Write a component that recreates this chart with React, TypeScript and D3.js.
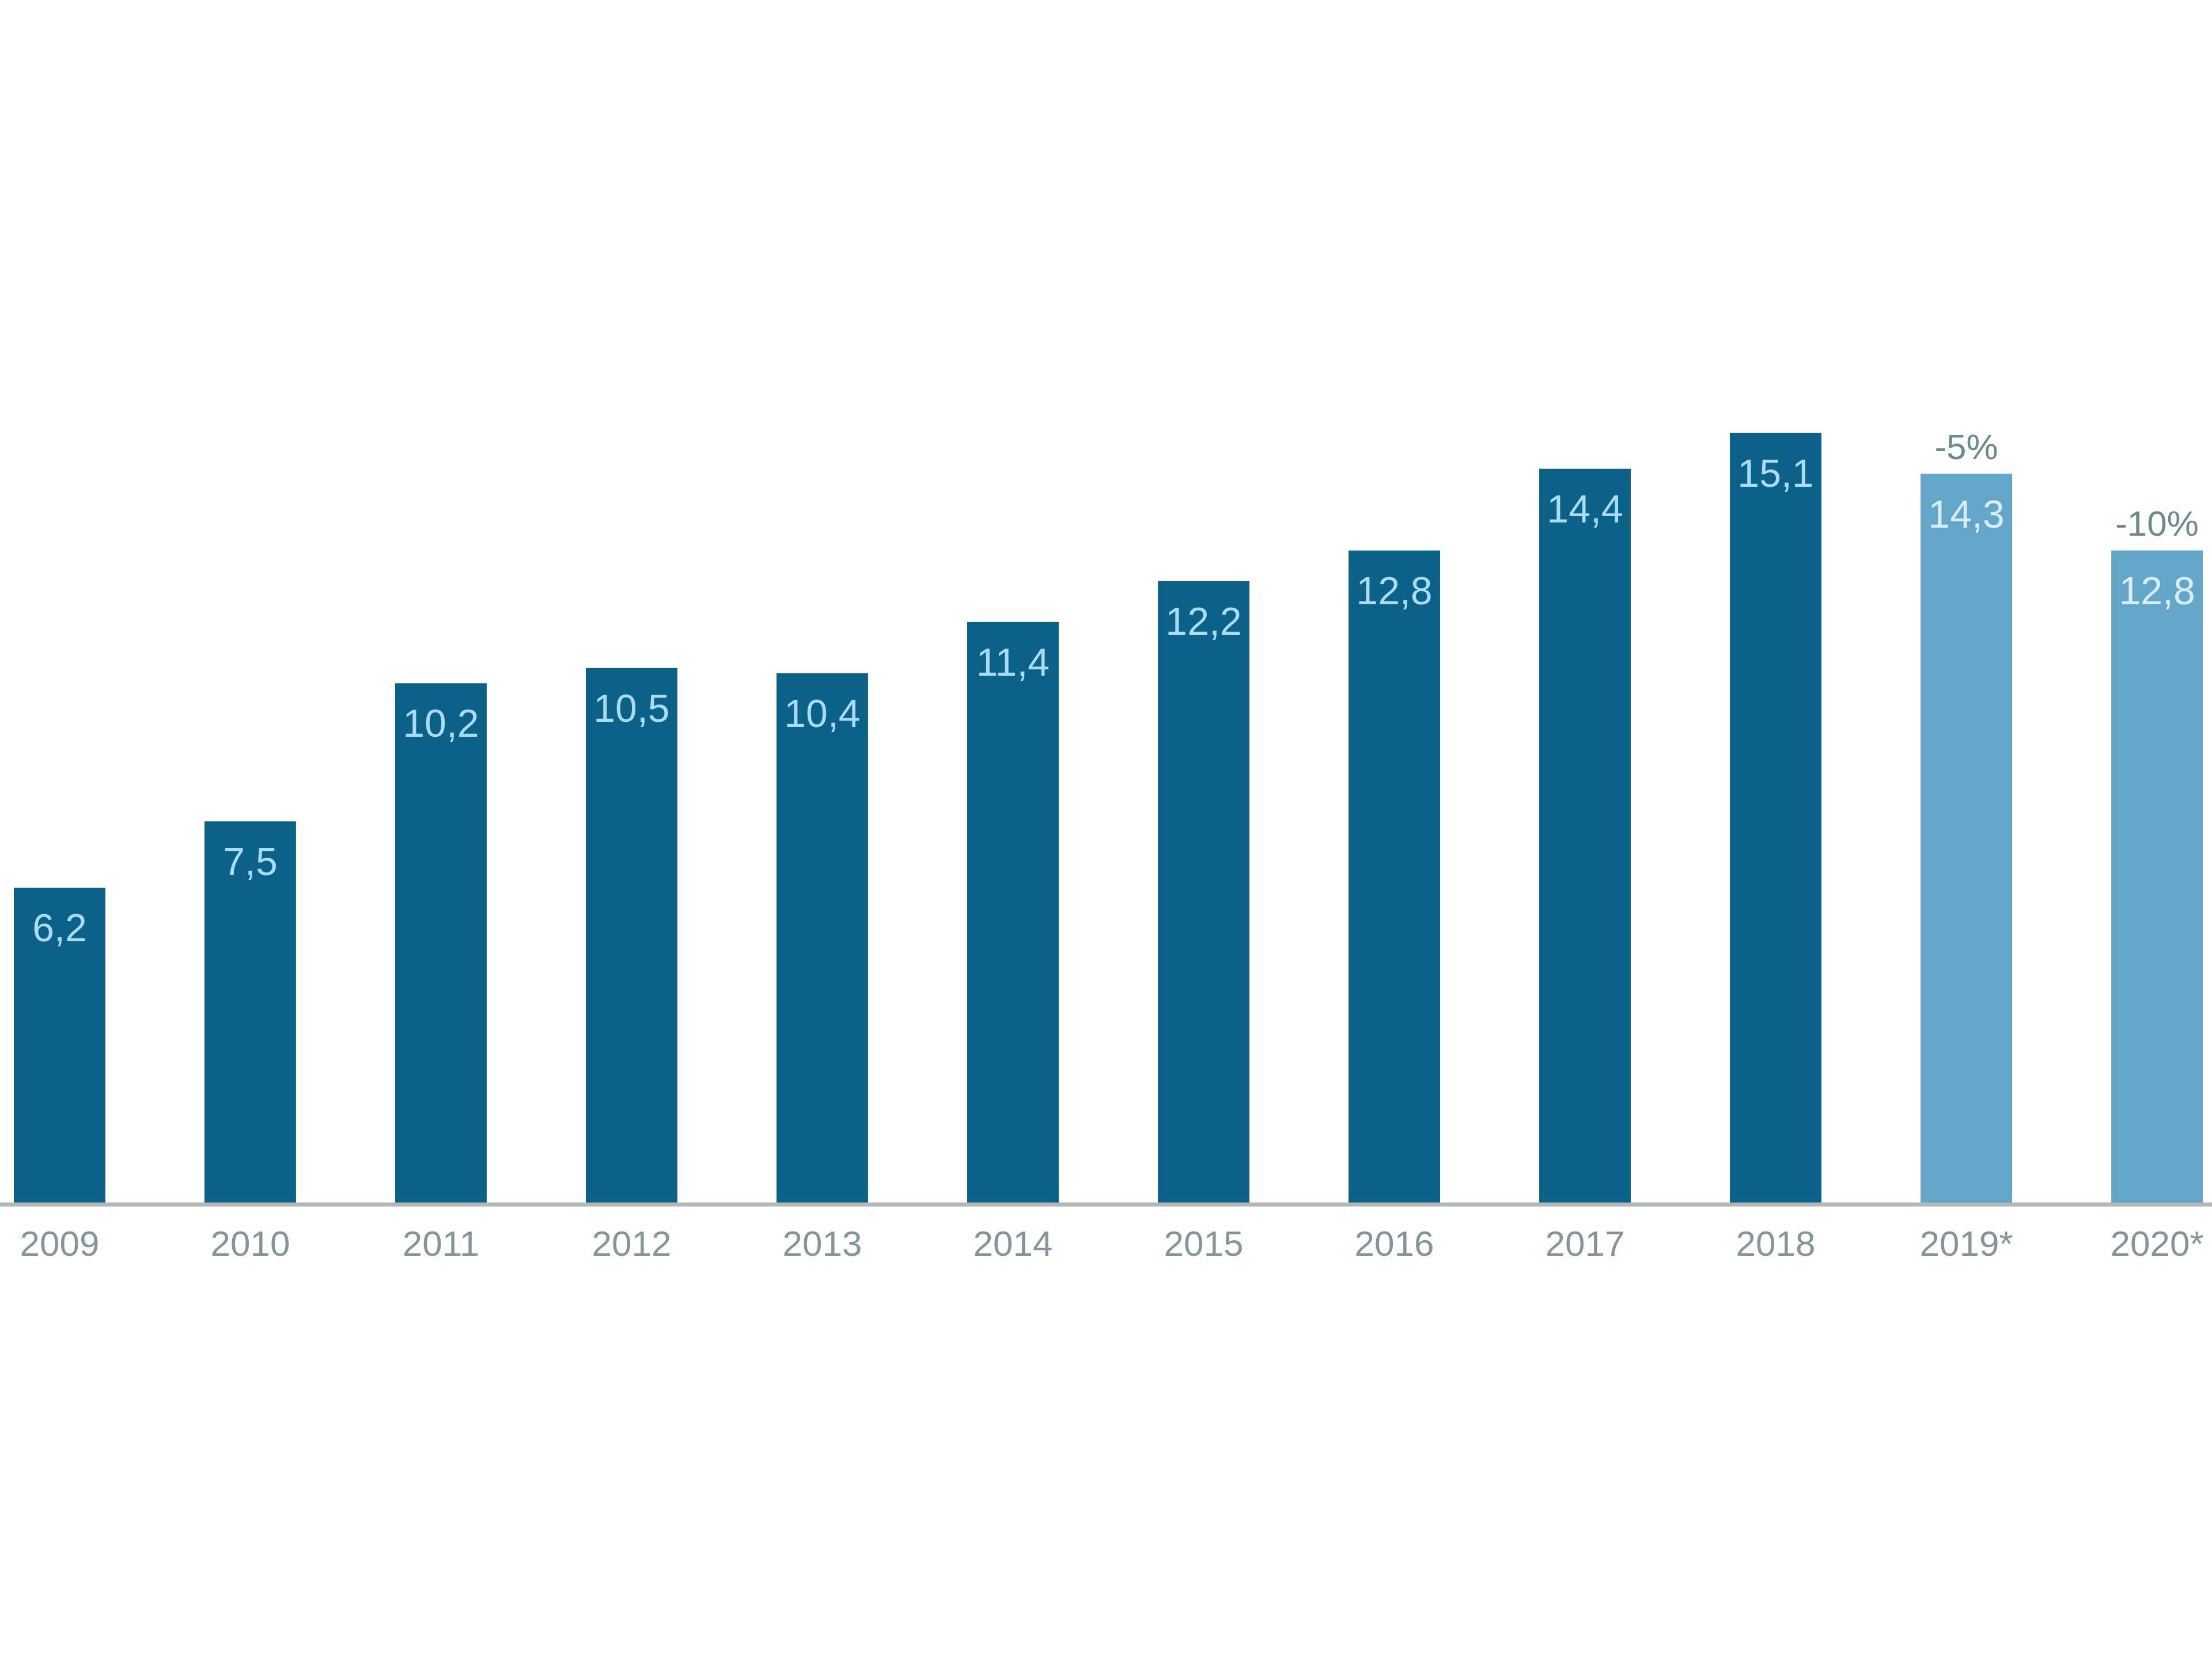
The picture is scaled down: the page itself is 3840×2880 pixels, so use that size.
import React from 'react';
import * as d3 from 'd3';

// values (comma decimals as shown)
const years = ['2009', '2010', '2011', '2012', '2013', '2014', '2015', '2016', '2017', '2018', '2019*', '2020*'];
const values = [6.2, 7.5, 10.2, 10.5, 10.4, 11.4, 12.2, 12.8, 14.4, 15.1, 14.3, 12.8];
const forecast = [false, false, false, false, false, false, false, false, false, false, true, true];
const changeLabels = ['', '', '', '', '', '', '', '', '', '', '-5%', '-10%'];

const width = 3840;
const height = 2880;
const baseline = 2091;

export default function App() {
  const x = d3.scaleBand()
    .domain(years)
    .range([24, 3824])
    .paddingInner(0.52)
    .paddingOuter(0);

  const y = d3.scaleLinear()
    .domain([0, 16])
    .range([baseline, baseline - 16 * 88.7]);

  const fmt = (v: number) => v.toFixed(1).replace('.', ',');

  return (
    <svg
      width={width}
      height={height}
      style={{ position: 'absolute', left: 0, top: 0, display: 'block', background: '#ffffff' }}
      fontFamily="'Liberation Sans', Arial, sans-serif"
    >
      <rect x={0} y={0} width={width} height={height} fill="#ffffff" />

      {/* bars */}
      {years.map((yr, i) => (
        <rect
          key={yr}
          x={x(yr)!}
          y={y(values[i])}
          width={x.bandwidth()}
          height={baseline - y(values[i])}
          fill={forecast[i] ? '#64a6c8' : '#0b6187'}
        />
      ))}

      {/* baseline */}
      <line x1={0} x2={width} y1={baseline} y2={baseline} stroke="#b4b7b8" strokeWidth={7} />

      {/* value labels inside bars */}
      {years.map((yr, i) => (
        <text
          key={'v' + yr}
          x={x(yr)! + x.bandwidth() / 2}
          y={y(values[i]) + 93}
          textAnchor="middle"
          fontSize={68}
          fill={forecast[i] ? '#d6eefa' : '#a9dcf3'}
        >
          {fmt(values[i])}
        </text>
      ))}

      {/* change annotations above forecast bars */}
      {years.map((yr, i) => changeLabels[i] ? (
        <text
          key={'c' + yr}
          x={x(yr)! + x.bandwidth() / 2}
          y={y(values[i]) - 26}
          textAnchor="middle"
          fontSize={62}
          fill="#6e8a8c"
        >
          {changeLabels[i]}
        </text>
      ) : null)}

      {/* category labels */}
      {years.map((yr) => (
        <text
          key={'t' + yr}
          x={x(yr)! + x.bandwidth() / 2}
          y={2180}
          textAnchor="middle"
          fontSize={62}
          fill="#86959a"
        >
          {yr}
        </text>
      ))}
    </svg>
  );
}
